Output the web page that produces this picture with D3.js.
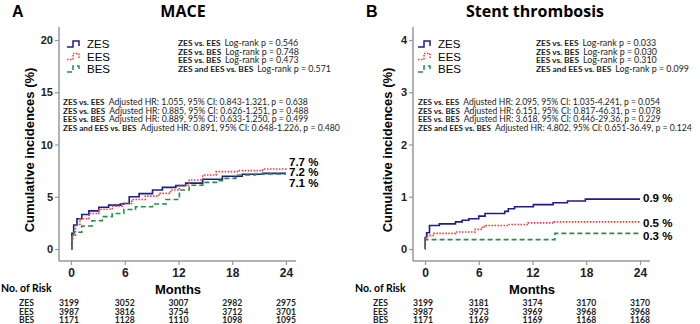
<!DOCTYPE html>
<meta charset="utf-8">
<style>
    body { margin: 0; background: #fff; }
    .axis text { font: bold 11px Arial, "Liberation Sans", sans-serif; fill: #222; }
    .axis line { stroke: #999; stroke-width: 1.2; }
    .stat { font-family: Lato, sans-serif; fill: #222; }
    .stat tspan.b { font-weight: bold; }
    .risk { font: bold 8.6px Lato, sans-serif; fill: #222; }
</style>
<body>
<script src="https://d3js.org/d3.v7.min.js"></script>
<script>
// x ticks / months
var months = [0, 6, 12, 18, 24];
var groups = ["ZES", "EES", "BES"];

// MACE curves: [month, cumulative %]
var maceZES = [[0,0],[0.1,1.5],[0.3,2.3],[0.67,2.9],[1.2,3.3],[2,3.65],[3.1,4.0],[4.2,4.2],[5.5,4.3],[5.9,4.36],[6.5,5.0],[7.6,5.3],[9.1,5.64],[10.2,5.9],[11.7,6.06],[12.8,6.3],[14.7,6.67],[16.9,6.96],[19.1,7.15],[21.4,7.24],[24,7.24]];
var maceEES = [[0,0],[0.1,1.3],[0.5,2.3],[1.0,2.9],[2,3.4],[3.1,3.8],[4.6,4.1],[5.7,4.36],[6.8,4.74],[8.3,5.06],[9.8,5.32],[11.1,5.64],[12.1,6.1],[13.2,6.6],[14.7,7.08],[16.2,7.4],[18.8,7.5],[21.4,7.66],[24,7.75]];
var maceBES = [[0,0],[0.1,1.0],[0.3,1.6],[1.2,2.2],[2.35,2.7],[3.5,3.1],[4.6,3.4],[5.9,3.78],[7.2,4.04],[8.1,4.04],[9.1,4.3],[10.6,4.74],[12.1,5.64],[13.2,6.1],[14.7,6.38],[16.5,6.54],[16.9,6.76],[18.4,7.08],[20.6,7.18],[24,7.18]];

// Stent thrombosis curves
var stZES = [[0,0],[0.02,0.22],[0.18,0.31],[0.5,0.45],[1.6,0.48],[3.4,0.52],[4.15,0.55],[4.9,0.58],[6.0,0.63],[6.7,0.68],[8.9,0.72],[9.3,0.77],[10.0,0.81],[12.1,0.85],[14.3,0.885],[15.9,0.92],[17.9,0.955],[24,0.955]];
var stEES = [[0,0],[0.02,0.22],[0.3,0.26],[1.0,0.30],[3.4,0.325],[5.6,0.376],[6.4,0.43],[6.7,0.45],[9.3,0.47],[11.5,0.50],[14.4,0.52],[24,0.52]];
var stBES = [[0,0],[0.02,0.18],[14.5,0.30],[24,0.30]];

var maceEnd = ["7.2 %", "7.7 %", "7.1 %"];
var stEnd = ["0.9 %", "0.5 %", "0.3 %"];

var maceLogrank = [["ZES vs. EES", "Log-rank p = 0.546"], ["ZES vs. BES", "Log-rank p = 0.748"], ["EES vs. BES", "Log-rank p = 0.473"], ["ZES and EES vs. BES", "Log-rank p = 0.571"]];
var maceHR = [["ZES vs. EES", "Adjusted HR: 1.055, 95% CI: 0.843-1.321, p = 0.638"], ["ZES vs. BES", "Adjusted HR: 0.885, 95% CI: 0.626-1.251, p = 0.488"], ["EES vs. BES", "Adjusted HR: 0.889, 95% CI: 0.633-1.250, p = 0.499"], ["ZES and EES vs. BES", "Adjusted HR: 0.891, 95% CI: 0.648-1.226, p = 0.480"]];
var stLogrank = [["ZES vs. EES", "Log-rank p = 0.033"], ["ZES vs. BES", "Log-rank p = 0.030"], ["EES vs. BES", "Log-rank p = 0.310"], ["ZES and EES vs. BES", "Log-rank p = 0.099"]];
var stHR = [["ZES vs. EES", "Adjusted HR: 2.095, 95% CI: 1.035-4.241, p = 0.054"], ["ZES vs. BES", "Adjusted HR: 6.151, 95% CI: 0.817-46.31, p = 0.078"], ["EES vs. BES", "Adjusted HR: 3.618, 95% CI: 0.446-29.36, p = 0.229"], ["ZES and EES vs. BES", "Adjusted HR: 4.802, 95% CI: 0.651-36.49, p = 0.124"]];

var maceRisk = [[3199, 3052, 3007, 2982, 2975], [3987, 3816, 3754, 3712, 3701], [1171, 1128, 1110, 1098, 1095]];
var stRisk = [[3199, 3181, 3174, 3170, 3170], [3987, 3973, 3969, 3968, 3968], [1171, 1169, 1169, 1168, 1168]];

var colors = ["#1c1c8c", "#f03a3a", "#2a8c4a"];
var dashes = [null, "1.5,1.5", "5,3"];

var svg = d3.select("body").append("svg")
    .attr("width", 700).attr("height", 324);

function drawPanel(p) {
    var g = svg.append("g").attr("transform", "translate(" + p.dx + ",0)");

    var x = d3.scaleLinear().domain([0, 24]).range([71, 286]);
    var y = d3.scaleLinear().domain([0, p.ymax]).range([249, 40]);

    // letter + title
    g.append("text").attr("x", 12).attr("y", 17)
        .style("font", "bold 16px Arial, sans-serif").text(p.letter);
    g.append("text").attr("x", p.titleX).attr("y", 17).attr("text-anchor", "middle")
        .style("font", "bold 16px 'Open Sans', sans-serif").text(p.title);

    // y axis
    var ya = g.append("g").attr("class", "axis").attr("transform", "translate(59,0)")
        .call(d3.axisLeft(y).ticks(4).tickSize(4).tickPadding(2).tickFormat(d3.format("d")));
    ya.select(".domain").remove();
    g.append("line").attr("x1", 59).attr("x2", 59).attr("y1", 27).attr("y2", 261)
        .attr("stroke", "#999").attr("stroke-width", 1.5);

    // x axis
    var xa = g.append("g").attr("class", "axis").attr("transform", "translate(0,261)")
        .call(d3.axisBottom(x).tickValues(months).tickSize(4).tickPadding(3));
    xa.select(".domain").remove();
    xa.selectAll("text").style("font-size", "12px");
    g.append("line").attr("x1", 59).attr("x2", 296).attr("y1", 261).attr("y2", 261)
        .attr("stroke", "#999").attr("stroke-width", 1.5);

    g.append("text").attr("transform", "translate(" + p.labX + ",150) rotate(-90)")
        .attr("text-anchor", "middle")
        .style("font", "bold 13px Arial, sans-serif").text("Cumulative incidences (%)");
    g.append("text").attr("x", 178).attr("y", 294).attr("text-anchor", "middle")
        .style("font", "bold 13px Arial, sans-serif").text("Months");

    // curves
    var line = d3.line().x(function (d) { return x(d[0]); }).y(function (d) { return y(d[1]); })
        .curve(d3.curveStepAfter);
    p.curves.forEach(function (c, i) {
        g.append("path").datum(c).attr("d", line)
            .attr("fill", "none").attr("stroke", colors[i]).attr("stroke-width", 1.6)
            .attr("stroke-dasharray", dashes[i]);
    });

    // end labels
    p.endLabels.forEach(function (t, i) {
        g.append("text").attr("x", 289).attr("y", p.endY[i]).attr("dy", "0.35em")
            .style("font", "bold 11.5px Arial, sans-serif").text(t);
    });

    // legend
    groups.forEach(function (name, i) {
        var ly = 44 + i * 12.5;
        var sym = [[0, 3], [6, 3], [6, -3], [12, -3], [12, 2]];
        g.append("path").attr("d", d3.line()(sym.map(function (s) { return [p.legX + s[0], ly + s[1]]; })))
            .attr("fill", "none").attr("stroke", colors[i]).attr("stroke-width", 1.5)
            .attr("stroke-dasharray", dashes[i]);
        g.append("text").attr("x", p.legX + 20).attr("y", ly).attr("dy", "0.35em")
            .style("font", "11.5px Arial, sans-serif").text(name);
    });

    // stats text; shrink font if a line is wider than the room in the reference
    function stats(rows, x0, y0, size, maxW) {
        var texts = rows.map(function (r, i) {
            var t = g.append("text").attr("class", "stat").attr("x", x0).attr("y", y0 + i * 8.7);
            t.append("tspan").attr("class", "b").style("font-size", (size - 0.5) + "px").text(r[0]);
            t.append("tspan").attr("dx", 4).style("font-size", size + "px").text(r[1]);
            return t;
        });
        var w = d3.max(texts, function (t) { return t.node().getBBox().width; });
        if (w > maxW) {
            var k = maxW / w;
            texts.forEach(function (t) {
                t.select(".b").style("font-size", ((size - 0.5) * k) + "px");
                t.select("tspan:last-child").style("font-size", (size * k) + "px");
            });
        }
    }
    stats(p.logrank, p.lrX, 46, 9.3, p.lrW);
    stats(p.hr, p.hrX, 105, 9, p.hrW);

    // number at risk
    g.append("text").attr("x", p.riskX).attr("y", 292)
        .style("font", "bold 10.5px Lato, sans-serif").text("No. of Risk");
    groups.forEach(function (name, i) {
        var ry = 306 + i * 8.6;
        g.append("text").attr("class", "risk").attr("x", p.riskX + 18).attr("y", ry).text(name);
        p.risk[i].forEach(function (v, j) {
            g.append("text").attr("class", "risk").attr("x", x(months[j]) - (j === 0 ? 2 : 0)).attr("y", ry)
                .attr("text-anchor", "middle").text(v);
        });
    });
}

drawPanel({ dx: 0, letter: "A", title: "MACE", titleX: 183, ymax: 20, curves: [maceZES, maceEES, maceBES],
    endLabels: maceEnd, endY: [172, 162, 183], legX: 67, lrX: 178, hrX: 63, labX: 34,
    lrW: 153, hrW: 277, logrank: maceLogrank, hr: maceHR, risk: maceRisk, riskX: 1 });
drawPanel({ dx: 354, letter: "B", title: "Stent thrombosis", titleX: 181, ymax: 4, curves: [stZES, stEES, stBES],
    endLabels: stEnd, endY: [198, 223, 236], legX: 64, lrX: 182, hrX: 64, labX: 38,
    lrW: 153, hrW: 274, logrank: stLogrank, hr: stHR, risk: stRisk, riskX: 1 });
</script>
</body>
